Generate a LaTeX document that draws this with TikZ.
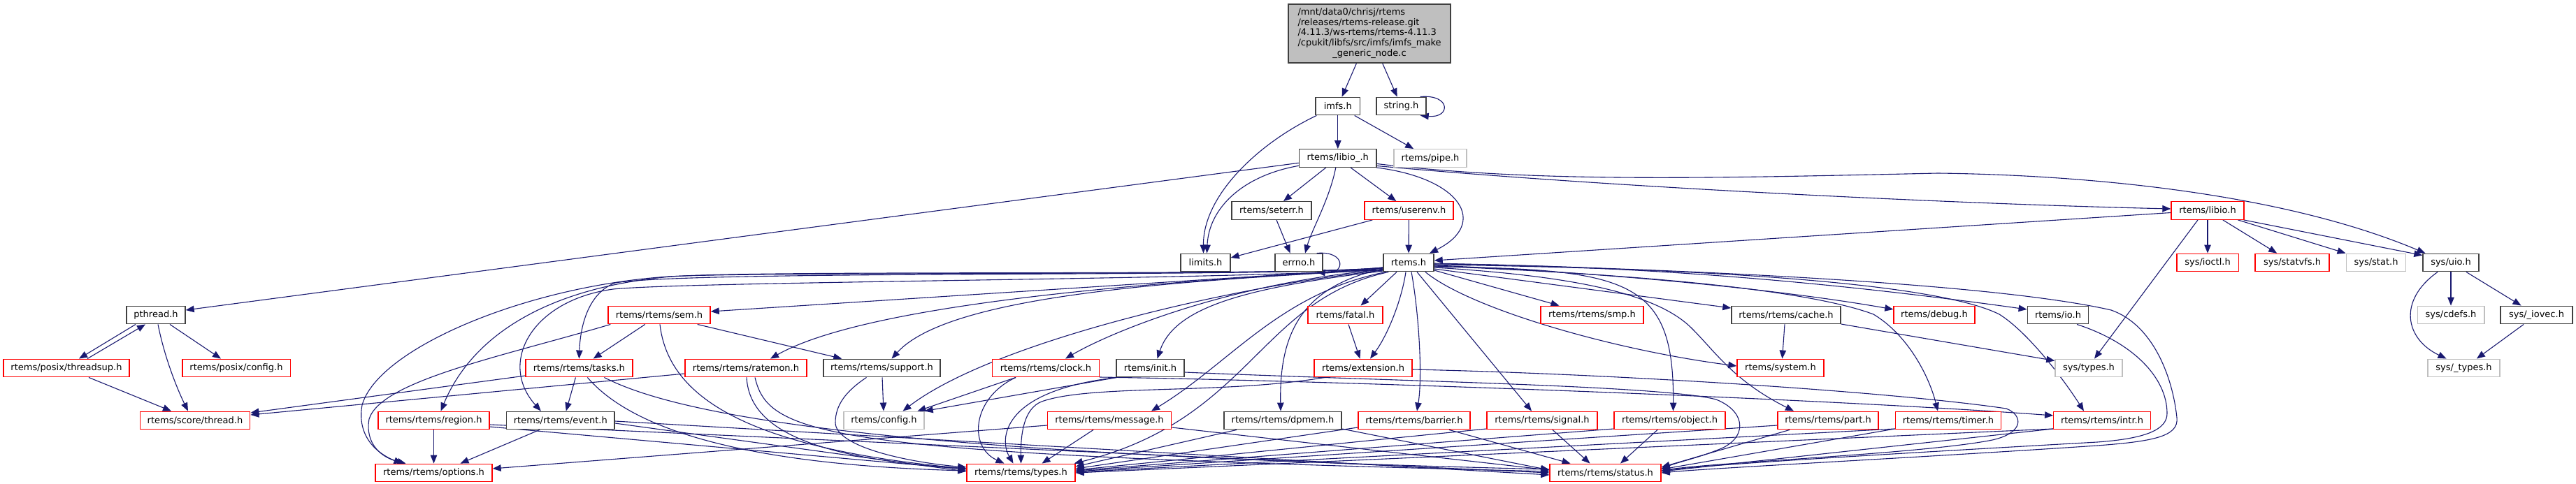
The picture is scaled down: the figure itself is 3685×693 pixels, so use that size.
\documentclass[tikz,border=0pt]{standalone}
\usepackage{fontspec}
\setmainfont{DejaVu Sans}
\usetikzlibrary{arrows.meta,backgrounds}
\definecolor{edgec}{HTML}{191970}
\definecolor{dgray}{HTML}{404040}
\definecolor{lgray}{HTML}{BFBFBF}
\definecolor{mainfill}{HTML}{BFBFBF}
\definecolor{redb}{HTML}{FF0000}
\tikzset{
  basebox/.style={draw=#1, line width=1.4pt, fill=white, inner sep=0pt, minimum height=25.5pt, font=\fontsize{13}{15.6}\selectfont},
  nbox/.style={basebox=dgray},
  rbox/.style={basebox=redb},
  gbox/.style={basebox=lgray},
  conn/.style={draw=edgec, line width=1.1pt, -{Triangle[length=12pt,width=9.5pt]}},
}
\begin{document}
\begin{tikzpicture}[x=1pt,y=-1pt]
\useasboundingbox (0,0) rectangle (3685,693);
% ---------- nodes ----------
\node[nbox, fill=mainfill, minimum width=232pt, minimum height=84pt] (main) at (1959,48) {\fontsize{13}{14.85}\selectfont\begin{tabular}{@{}l@{}}/mnt/data0/chrisj/rtems\\/releases/rtems-release.git\\/4.11.3/ws-rtems/rtems-4.11.3\\/cpukit/libfs/src/imfs/imfs\_make\\\multicolumn{1}{@{}c@{}}{\_generic\_node.c}\end{tabular}};
\node[nbox, minimum width=63.5pt] (imfs) at (1913.8,152) {imfs.h};
\node[nbox, minimum width=71pt] (string) at (2004.5,152) {string.h};
\node[nbox, minimum width=110.5pt] (libioU) at (1913.8,226.5) {rtems/libio\_.h};
\node[gbox, minimum width=104pt] (pipe) at (2046,226.5) {rtems/pipe.h};
\node[nbox, minimum width=114pt] (seterr) at (1819,301.5) {rtems/seterr.h};
\node[rbox, minimum width=127pt] (userenv) at (2015.5,301.5) {rtems/userenv.h};
\node[rbox, minimum width=104pt] (libio) at (3158,301.5) {rtems/libio.h};
\node[nbox, minimum width=71pt] (limits) at (1724.5,376) {limits.h};
\node[nbox, minimum width=68pt] (errno) at (1858,376) {errno.h};
\node[nbox, minimum width=72pt] (rtemsh) at (2015,376) {rtems.h};
\node[rbox, minimum width=88.4pt] (ioctl) at (3158,376) {sys/ioctl.h};
\node[rbox, minimum width=106pt] (statvfs) at (3279,376) {sys/statvfs.h};
\node[gbox, minimum width=85.5pt] (stat) at (3399,376) {sys/stat.h};
\node[nbox, minimum width=80pt] (uio) at (3506,376) {sys/uio.h};
\node[nbox, minimum width=84pt] (pthread) at (223,451) {pthread.h};
\node[rbox, minimum width=146pt] (sem) at (943,451) {rtems/rtems/sem.h};
\node[rbox, minimum width=107pt] (fatal) at (1924.5,451) {rtems/fatal.h};
\node[rbox, minimum width=147pt] (smp) at (2277.5,451) {rtems/rtems/smp.h};
\node[nbox, minimum width=156pt] (cache) at (2555,451) {rtems/rtems/cache.h};
\node[rbox, minimum width=116pt] (debug) at (2767,451) {rtems/debug.h};
\node[nbox, minimum width=87.4pt] (io) at (2944,451) {rtems/io.h};
\node[gbox, minimum width=95.6pt] (cdefs) at (3506,451) {sys/cdefs.h};
\node[nbox, minimum width=103pt] (iovec) at (3628.5,451) {sys/\_iovec.h};
\node[rbox, minimum width=180pt] (threadsup) at (95,527) {rtems/posix/threadsup.h};
\node[rbox, minimum width=154.4pt] (pconfig) at (338,527) {rtems/posix/config.h};
\node[rbox, minimum width=153pt] (tasks) at (828.4,527) {rtems/rtems/tasks.h};
\node[rbox, minimum width=174pt] (ratemon) at (1067,527) {rtems/rtems/ratemon.h};
\node[nbox, minimum width=167pt] (support) at (1261.5,527) {rtems/rtems/support.h};
\node[rbox, minimum width=152.5pt] (clock) at (1496,527) {rtems/rtems/clock.h};
\node[nbox, minimum width=97pt] (init) at (1645.5,527) {rtems/init.h};
\node[rbox, minimum width=140pt] (extension) at (1950,527) {rtems/extension.h};
\node[rbox, minimum width=124pt] (system) at (2547,527) {rtems/system.h};
\node[gbox, minimum width=96pt] (systypes) at (2988,527) {sys/types.h};
\node[gbox, minimum width=103pt] (utypes) at (3524.5,527) {sys/\_types.h};
\node[rbox, minimum width=157.5pt] (sthread) at (279,602) {rtems/score/thread.h};
\node[rbox, minimum width=159pt] (region) at (620.5,602) {rtems/rtems/region.h};
\node[nbox, minimum width=154.5pt] (event) at (801.8,602) {rtems/rtems/event.h};
\node[gbox, minimum width=115pt] (config) at (1264.5,602) {rtems/config.h};
\node[rbox, minimum width=177pt] (message) at (1587,602) {rtems/rtems/message.h};
\node[nbox, minimum width=168pt] (dpmem) at (1835,602) {rtems/rtems/dpmem.h};
\node[rbox, minimum width=160pt] (barrier) at (2023,602) {rtems/rtems/barrier.h};
\node[rbox, minimum width=158pt] (signal) at (2206,602) {rtems/rtems/signal.h};
\node[rbox, minimum width=159pt] (object) at (2388.5,602) {rtems/rtems/object.h};
\node[rbox, minimum width=144pt] (part) at (2615,602) {rtems/rtems/part.h};
\node[rbox, minimum width=151.4pt] (timer) at (2787,602) {rtems/rtems/timer.h};
\node[rbox, minimum width=138.5pt] (intr) at (3007,602) {rtems/rtems/intr.h};
\node[rbox, minimum width=167pt] (options) at (620.5,677) {rtems/rtems/options.h};
\node[rbox, minimum width=155pt] (types) at (1460.5,677) {rtems/rtems/types.h};
\node[rbox, minimum width=159pt] (status) at (2296.5,677) {rtems/rtems/status.h};
% ---------- edges ----------
\begin{scope}[on background layer]
\draw[conn] (main) -- (imfs);
\draw[conn] (main) -- (string);
\draw[conn] ([xshift=-9pt]string.north east) .. controls +(44,-4) and +(44,4) .. ([xshift=-9pt]string.south east);
\draw[conn] ([xshift=2pt]imfs.south west) .. controls (1800,205) and (1721,280) .. ([xshift=-3pt]limits.north);
\draw[conn] (imfs) -- (libioU);
\draw[conn] (imfs) -- (pipe);
\draw[conn] (libioU) -- (seterr);
\draw[conn] (libioU) -- (userenv);
\draw[conn] ([xshift=-3pt]libioU.south) .. controls (1902,285) and (1876,330) .. ([xshift=9pt]errno.north);
\draw[conn] ([xshift=7pt]seterr.south) -- ([xshift=-12.5pt]errno.north);
\draw[conn] ([yshift=-10.8pt]libioU.west) .. controls (1775,252) and (1729,300) .. ([xshift=2pt]limits.north);
\draw[conn] ([yshift=-6.8pt]libioU.west) -- ([yshift=7pt]pthread.east);
\draw[conn] ([xshift=55pt]libioU.south) .. controls (2090,255) and (2130,320) .. ([xshift=30pt]rtemsh.north);
\draw[conn] ([yshift=-11pt]libioU.east) .. controls (2300,268) and (2800,292) .. ([yshift=2.5pt]libio.west);
\draw[conn] ([yshift=-8pt]libioU.east) .. controls (2200,262) and (2450,255) .. (2772,248) .. controls (2950,250) and (3250,270) .. ([xshift=4pt]uio.north west);
\draw[conn] ([xshift=12pt]userenv.south west) -- ([yshift=7pt]limits.east);
\draw[conn] (userenv) -- (rtemsh);
\draw[conn] ([xshift=-9pt]errno.north east) .. controls +(42,-4) and +(42,4) .. ([xshift=-9pt]errno.south east);
\draw[conn] ([yshift=-3pt]libio.west) -- ([yshift=3pt]rtemsh.east);
\draw[conn] (libio) -- (ioctl);
\draw[conn] (libio) -- (statvfs);
\draw[conn] (libio) -- (stat);
\draw[conn] ([xshift=-1pt]libio.south east) -- ([yshift=-3pt]uio.north west);
\draw[conn] ([xshift=-14pt]libio.south) -- ([xshift=8pt]systypes.north);
\draw[conn] (uio) -- (cdefs);
\draw[conn] (uio) -- (iovec);
\draw[conn] ([xshift=-19pt]uio.south) .. controls (3430,430) and (3440,485) .. ([xshift=-25pt]utypes.north);
\draw[conn] (iovec) -- (utypes);
% pthread group
\draw[conn] ([xshift=-29pt]pthread.south) -- ([xshift=18pt]threadsup.north);
\draw[conn] ([xshift=30pt]threadsup.north) -- ([xshift=-15pt]pthread.south);
\draw[conn] ([xshift=20pt]pthread.south) -- ([xshift=-22pt]pconfig.north);
\draw[conn] ([xshift=3pt]pthread.south) .. controls (236,515) and (255,560) .. ([xshift=-10pt]sthread.north);
\draw[conn] ([xshift=32pt]threadsup.south) -- ([xshift=-34pt]sthread.north);
\draw[conn] ([yshift=-11pt]tasks.west) -- ([yshift=11pt]sthread.east);
\draw[conn] ([yshift=-8pt]ratemon.west) -- ([yshift=8pt]sthread.east);
% sem
\draw[conn] (sem) -- (tasks);
\draw[conn] ([xshift=-19pt]sem.south east) -- ([xshift=27pt]support.north west);
\draw[conn] ([xshift=4pt]sem.south west) .. controls (720,510) and (545,545) .. (528,600) .. controls (522,635) and (545,655) .. ([xshift=-40pt]options.north);
\draw[conn] ([xshift=1pt]sem.south) .. controls (955,560) and (1050,640) .. ([yshift=6pt]types.west);
% tasks
\draw[conn] ([xshift=-5pt]tasks.south) -- ([xshift=8pt]event.north);
\draw[conn] ([xshift=12pt]tasks.south) .. controls (900,610) and (1050,665) .. ([yshift=3pt]types.west);
\draw[conn] ([xshift=36pt]tasks.south) .. controls (980,600) and (1300,650) .. ([yshift=5pt]status.west);
% event, region
\draw[conn] ([xshift=-30pt]event.south) -- ([xshift=38pt]options.north);
\draw[conn] ([yshift=-4pt]event.east) -- ([yshift=2pt]types.west);
\draw[conn] ([yshift=-1pt]event.east) -- ([yshift=-3pt]status.west);
\draw[conn] (region) -- (options);
\draw[conn] ([yshift=-9pt]region.east) -- ([yshift=5pt]types.west);
\draw[conn] ([yshift=-6pt]region.east) -- (status.west);
% ratemon
\draw[conn] ([xshift=1pt]ratemon.south) .. controls (1072,610) and (1150,655) .. ([yshift=6pt]types.west);
\draw[conn] ([xshift=13pt]ratemon.south) .. controls (1100,625) and (1180,650) .. ([yshift=2pt]status.west);
% support, clock, init
\draw[conn] (support) -- (config);
\draw[conn] ([xshift=-22pt]support.south) .. controls (1210,560) and (1195,580) .. (1195,605) .. controls (1195,640) and (1300,662) .. ([yshift=8pt]types.west);
\draw[conn] ([xshift=-43pt]clock.south) -- ([xshift=48pt]config.north);
\draw[conn] ([xshift=-43pt]clock.south) .. controls (1390,570) and (1385,640) .. ([xshift=-24pt]types.north);
\draw[conn] ([yshift=-13pt]clock.east) .. controls (1900,545) and (2600,570) .. ([yshift=7pt]intr.west);
\draw[conn] ([xshift=-48pt]init.south) -- (config.north east);
\draw[conn] ([xshift=-48pt]init.south) .. controls (1430,560) and (1430,630) .. ([xshift=-11pt]types.north);
\draw[conn] ([yshift=-6pt]init.east) .. controls (2000,546) and (2380,552) .. (2455,572) .. controls (2500,590) and (2500,630) .. (2455,645) .. controls (2430,655) and (2400,662) .. ([yshift=6pt]status.east);
% message
\draw[conn] ([yshift=-7pt]message.west) -- ([yshift=6pt]options.east);
\draw[conn] ([xshift=-23pt]message.south) -- ([xshift=30pt]types.north);
\draw[conn] ([yshift=-10pt]message.east) -- ([yshift=4pt]status.west);
% fatal, extension
\draw[conn] (fatal) -- (extension);
\draw[conn] ([xshift=-55pt]extension.south) .. controls (1750,565) and (1560,550) .. (1490,575) .. controls (1465,585) and (1460,620) .. (types.north);
\draw[conn] ([yshift=-2pt]extension.east) .. controls (2300,535) and (2700,560) .. (2870,585) .. controls (2895,595) and (2895,620) .. (2850,630) .. controls (2750,650) and (2450,662) .. ([yshift=3pt]status.east);
% rank-7 nodes to types and status
\draw[conn] ([xshift=-66pt]dpmem.south) -- ([yshift=9pt]types.east);
\draw[conn] ([yshift=-12pt]dpmem.east) -- ([yshift=4pt]status.west);
\draw[conn] ([yshift=-10pt]barrier.west) -- ([yshift=6pt]types.east);
\draw[conn] ([xshift=50pt]barrier.south) -- ([xshift=-50pt]status.north);
\draw[conn] ([yshift=-12pt]signal.west) -- ([yshift=4pt]types.east);
\draw[conn] ([xshift=15pt]signal.south) -- ([xshift=-22pt]status.north);
\draw[conn] ([yshift=-12pt]object.west) -- ([yshift=3pt]types.east);
\draw[conn] ([xshift=-17.5pt]object.south) -- ([xshift=21.5pt]status.north);
\draw[conn] ([yshift=-7pt]part.west) -- ([yshift=2pt]types.east);
\draw[conn] ([xshift=-55pt]part.south) -- ([yshift=8pt]status.east);
\draw[conn] ([yshift=-12pt]timer.west) -- ([yshift=1pt]types.east);
\draw[conn] ([yshift=-12pt]timer.west) -- ([yshift=5pt]status.east);
\draw[conn] ([yshift=-12pt]intr.west) -- (types.east);
\draw[conn] ([yshift=-12pt]intr.west) -- ([yshift=2pt]status.east);
% io, cache
\draw[conn] ([xshift=27pt]io.south) .. controls (3050,490) and (3100,540) .. (3100,592) .. controls (3100,615) and (3070,628) .. (3000,633) .. controls (2700,650) and (2450,665) .. ([yshift=3pt]status.east);
\draw[conn] ([xshift=-2pt]cache.south) -- ([xshift=2.5pt]system.north);
\draw[conn] ([yshift=-13pt]cache.east) -- ([yshift=10.5pt]systypes.west);
% rtems.h to the left
\draw[conn] ([yshift=-8pt]rtemsh.west) -- ([yshift=5pt]sem.east);
\draw[conn] ([yshift=-7pt]rtemsh.west) .. controls (1860,398) and (1000,386) .. (880,405) .. controls (840,420) and (830,470) .. (tasks.north);
\draw[conn] ([yshift=-7pt]rtemsh.west) .. controls (1860,396) and (1100,386) .. (960,396) .. controls (800,410) and (680,470) .. ([xshift=10pt]region.north);
\draw[conn] ([yshift=-8pt]rtemsh.west) .. controls (1860,400) and (1000,402) .. (877,414) .. controls (760,430) and (712,520) .. ([xshift=-28pt]event.north);
\draw[conn] ([yshift=-7pt]rtemsh.west) .. controls (1860,396) and (1100,388) .. (956,396) .. controls (750,410) and (540,500) .. (518,580) .. controls (510,625) and (540,650) .. ([xshift=-45pt]options.north);
\draw[conn] ([yshift=-10pt]rtemsh.west) .. controls (1700,400) and (1250,430) .. ([xshift=35pt]ratemon.north);
\draw[conn] ([yshift=-10pt]rtemsh.west) .. controls (1700,402) and (1360,420) .. ([xshift=14pt]support.north);
\draw[conn] ([yshift=-11pt]rtemsh.west) .. controls (1760,410) and (1420,490) .. ([xshift=27pt]config.north);
\draw[conn] ([yshift=-10pt]rtemsh.west) .. controls (1760,405) and (1590,475) .. ([xshift=28pt]clock.north);
\draw[conn] ([yshift=-12pt]rtemsh.west) .. controls (1780,412) and (1680,440) .. ([xshift=10pt]init.north);
\draw[conn] ([xshift=4pt]rtemsh.south west) .. controls (1830,420) and (1760,520) .. ([xshift=60pt]message.north);
\draw[conn] ([xshift=8pt]rtemsh.south west) .. controls (1800,430) and (1790,600) .. ([xshift=-2pt]types.north east);
\draw[conn] ([yshift=-9pt]rtemsh.west) .. controls (1860,410) and (1830,480) .. ([xshift=-3pt]dpmem.north);
% rtems.h downwards and to the right
\draw[conn] ([xshift=-17pt]rtemsh.south) -- ([xshift=22pt]fatal.north);
\draw[conn] ([xshift=-4pt]rtemsh.south) .. controls (2005,430) and (1985,480) .. ([xshift=10pt]extension.north);
\draw[conn] ([xshift=4pt]rtemsh.south) .. controls (2030,450) and (2035,540) .. ([xshift=4pt]barrier.north);
\draw[conn] ([xshift=12pt]rtemsh.south) -- ([xshift=-15pt]signal.north);
\draw[conn] ([yshift=-11pt]rtemsh.east) -- ([xshift=-47pt]smp.north);
\draw[conn] ([yshift=-6pt]rtemsh.east) .. controls (2330,385) and (2395,400) .. ([xshift=5pt]object.north);
\draw[conn] ([xshift=24pt]rtemsh.south) .. controls (2100,440) and (2300,500) .. ([yshift=3pt]system.west);
\draw[conn] ([yshift=-9pt]rtemsh.east) -- ([yshift=10pt]cache.west);
\draw[conn] ([yshift=-4pt]rtemsh.east) .. controls (2300,390) and (2550,415) .. ([yshift=8pt]debug.west);
\draw[conn] ([yshift=-2pt]rtemsh.east) .. controls (2400,380) and (2700,415) .. ([yshift=8pt]io.west);
\draw[conn] ([yshift=-7pt]rtemsh.east) .. controls (2250,395) and (2370,420) .. (2420,470) .. controls (2455,505) and (2480,545) .. ([xshift=-49pt]part.north);
\draw[conn] ([yshift=-5pt]rtemsh.east) .. controls (2400,395) and (2600,420) .. (2680,450) .. controls (2730,480) and (2760,540) .. ([xshift=-15pt]timer.north);
\draw[conn] ([yshift=-3pt]rtemsh.east) .. controls (2500,385) and (2780,410) .. (2860,450) .. controls (2900,475) and (2950,540) .. ([xshift=-26pt]intr.north);
\draw[conn] ([yshift=-1pt]rtemsh.east) .. controls (2400,385) and (2850,405) .. (3020,444) .. controls (3080,465) and (3108,540) .. (3114,598) .. controls (3117,625) and (3080,632) .. (3000,638) .. controls (2750,655) and (2450,670) .. (status.east);
\end{scope}
\end{tikzpicture}
\end{document}
